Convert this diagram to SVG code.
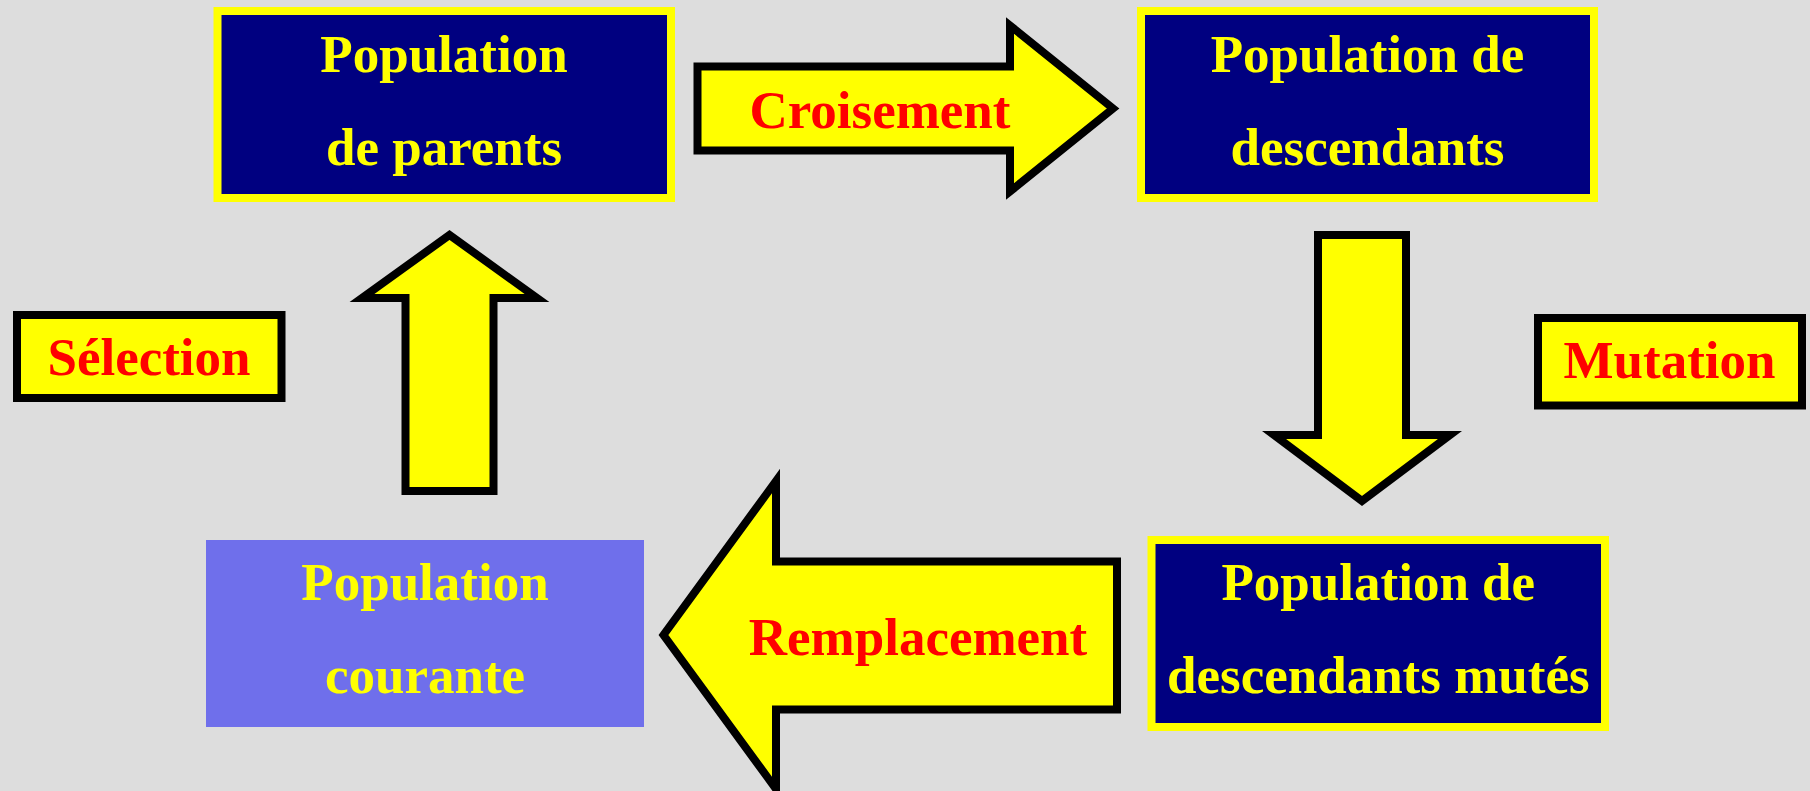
<svg xmlns="http://www.w3.org/2000/svg" width="1810" height="791" viewBox="0 0 1810 791">
<style>
.bg{fill:#dddddd}
.pop{fill:#000080;stroke:#ffff00;stroke-width:8}
.cur{fill:#6f6feb}
.lbl{fill:#ffff00;stroke:#000000;stroke-width:8}
.arr{fill:#ffff00;stroke:#000000;stroke-width:8;stroke-linejoin:miter;stroke-miterlimit:10}
text{font-family:"Liberation Serif","Times New Roman",serif;font-weight:bold;text-anchor:middle}
.yt{fill:#ffff00;font-size:53px}
.rt{fill:#ff0000;font-size:53px}
</style>
<rect class="bg" x="0" y="0" width="1810" height="791"/>
<g id="connectors">
  <g id="croisement">
    <polygon class="arr" points="697.5,66.5 1010,66.5 1010,25.5 1113,108.5 1010,191.5 1010,150.5 697.5,150.5"/>
    <text class="rt" x="880" y="128">Croisement</text>
  </g>
  <g id="mutation-arrow">
    <polygon class="arr" points="1318,235 1406,235 1406,435 1450,435 1362,501 1274,435 1318,435"/>
  </g>
  <g id="remplacement">
    <polygon class="arr" points="1117,561.5 776,561.5 776,481 663.5,635 776,789 776,709.5 1117,709.5"/>
    <text class="rt" x="918" y="655">Remplacement</text>
  </g>
  <g id="selection-arrow">
    <polygon class="arr" points="405.5,491 405.5,298 362,298 449.5,235 537,298 493.5,298 493.5,491"/>
  </g>
</g>
<g id="parents">
  <rect class="pop" x="217.5" y="11" width="453.5" height="187"/>
  <text class="yt" x="444" y="72">Population</text>
  <text class="yt" x="444" y="165">de parents</text>
</g>
<g id="descendants">
  <rect class="pop" x="1141" y="11" width="453" height="187"/>
  <text class="yt" x="1367.5" y="72">Population de</text>
  <text class="yt" x="1367.5" y="165">descendants</text>
</g>
<g id="mutes">
  <rect class="pop" x="1151.5" y="540" width="453.5" height="187"/>
  <text class="yt" x="1378.3" y="600">Population de</text>
  <text class="yt" x="1378.3" y="693">descendants mutés</text>
</g>
<g id="courante">
  <rect class="cur" x="206" y="540" width="438" height="187"/>
  <text class="yt" x="425" y="600">Population</text>
  <text class="yt" x="425" y="693">courante</text>
</g>
<g id="selection">
  <rect class="lbl" x="17" y="315" width="264.5" height="83"/>
  <text class="rt" x="149" y="375">Sélection</text>
</g>
<g id="mutation">
  <rect class="lbl" x="1538" y="318" width="264" height="87.5"/>
  <text class="rt" x="1669.5" y="378">Mutation</text>
</g>
</svg>
